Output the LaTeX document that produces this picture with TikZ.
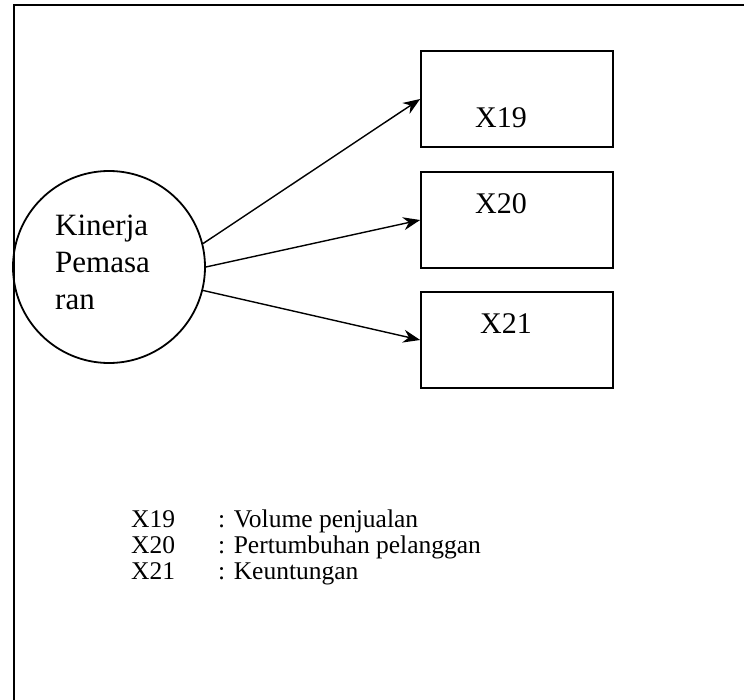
\documentclass[tikz,border=0pt]{standalone}
\usepackage{fontspec}
\setmainfont{Liberation Serif}
\usetikzlibrary{arrows.meta}
\begin{document}
\begin{tikzpicture}[x=1pt,y=-1pt,
  frameline/.style={line width=2.4pt, line cap=rect},
  latent/.style={circle, draw, line width=1.8pt, minimum size=192pt, inner sep=0pt},
  indicator/.style={rectangle, draw, line width=1.7pt, minimum width=192pt, minimum height=96pt, inner sep=0pt},
  link/.style={line width=1.4pt, -{Stealth[length=17pt,width=13pt]}},
  boxlabel/.style={anchor=base, font=\fontsize{30}{36}\selectfont, inner sep=0pt},
  circlabel/.style={anchor=base west, font=\fontsize{31}{37}\selectfont, inner sep=0pt},
  legendtext/.style={anchor=base west, font=\fontsize{25.5}{30}\selectfont, inner sep=0pt}]
\useasboundingbox (0,0) rectangle (744,699);
\coordinate (ftr) at (746,5);
\coordinate (ftl) at (14,5);
\coordinate (fbl) at (14,701);
\draw[frameline] (ftr) -- (ftl) -- (fbl);

\node[latent] (kp) at (109,267) {};
\node[circlabel] (t1) at (55,235) {Kinerja};
\node[circlabel] (t2) at (55,272) {Pemasa};
\node[circlabel] (t3) at (55,309) {ran};

\node[indicator] (b19) at (517,99) {};
\node[indicator] (b20) at (517,220) {};
\node[indicator] (b21) at (517,340) {};
\node[boxlabel] (l19) at (501,127) {X19};
\node[boxlabel] (l20) at (501,213) {X20};
\node[boxlabel] (l21) at (506,333) {X21};

\draw[link] (kp.14) -- (b19.west);
\draw[link] (kp.0) -- (b20.west);
\draw[link] (kp.-14) -- (b21.west);

\node[legendtext] (k19) at (131,527) {X19};
\node[legendtext] (d19) at (218,527) {: Volume penjualan};
\node[legendtext] (k20) at (131,553) {X20};
\node[legendtext] (d20) at (218,553) {: Pertumbuhan pelanggan};
\node[legendtext] (k21) at (131,579) {X21};
\node[legendtext] (d21) at (218,579) {: Keuntungan};
\end{tikzpicture}
\end{document}
